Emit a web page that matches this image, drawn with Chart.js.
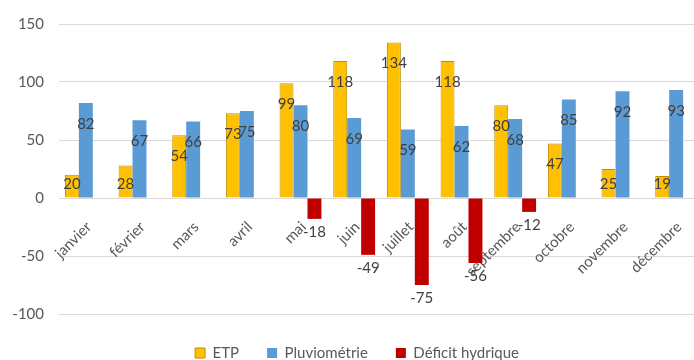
<!DOCTYPE html>
<html>
<head>
<meta charset="utf-8">
<script src="https://cdn.jsdelivr.net/npm/chart.js@4"></script>
<style>
  html, body { margin: 0; padding: 0; background: #ffffff; overflow: hidden; }
  /* the plot runs slightly past the right edge of the visible frame */
  #wrap { width: 694px; height: 360px; overflow: hidden; }
</style>
</head>
<body>
<div id="wrap"><canvas id="chart" width="703" height="360"></canvas></div>
<script>
// Monthly water balance: evapotranspiration, rainfall and water deficit (mm)
const months = ['janvier', 'février', 'mars', 'avril', 'mai', 'juin', 'juillet', 'août', 'septembre', 'octobre', 'novembre', 'décembre'];
const etp = [20, 28, 54, 73, 99, 118, 134, 118, 80, 47, 25, 19];
const pluviometrie = [82, 67, 66, 75, 80, 69, 59, 62, 68, 85, 92, 93];
const deficit = [null, null, null, null, -18, -49, -75, -56, -12, null, null, null];
const yMin = -100;
const yMax = 150;
const yStep = 50;

const FONT = 'Lato';
const TEXT = '#595959';

// Value labels: positive bars get the value inside the top end,
// negative bars get it just past the bar end.
const valueLabels = {
  id: 'valueLabels',
  afterDatasetsDraw(chart) {
    const ctx = chart.ctx;
    const zeroY = chart.scales.y.getPixelForValue(0);
    ctx.save();
    ctx.font = '15px ' + FONT;
    ctx.fillStyle = '#404040';
    ctx.textAlign = 'center';
    ctx.textBaseline = 'middle';
    chart.data.datasets.forEach((ds, i) => {
      const meta = chart.getDatasetMeta(i);
      meta.data.forEach((bar, j) => {
        const v = ds.data[j];
        if (v === null || v === undefined) return;
        let y;
        if (v >= 0) {
          y = Math.min(bar.y + 21, zeroY - 14);
        } else {
          y = bar.y + 13;
        }
        ctx.fillText(String(v), bar.x, y);
      });
    });
    ctx.restore();
  }
};

// Nudge the legend row a little right and down under the plot.
const legendOffset = {
  id: 'legendOffset',
  afterLayout(chart) {
    const lg = chart.legend;
    if (!lg) return;
    const dx = 5.5, dy = 3.5;
    lg.left += dx; lg.right += dx;
    lg.top += dy; lg.bottom += dy;
  }
};

new Chart(document.getElementById('chart'), {
  type: 'bar',
  data: {
    labels: months,
    datasets: [
      {
        label: 'ETP',
        data: etp,
        backgroundColor: '#FFC000',
        borderColor: '#BF9000',
        borderWidth: 1
      },
      {
        label: 'Pluviométrie',
        data: pluviometrie,
        backgroundColor: '#5B9BD5',
        borderWidth: 0
      },
      {
        label: 'Déficit hydrique',
        data: deficit,
        backgroundColor: '#C00000',
        borderWidth: 0
      }
    ]
  },
  options: {
    responsive: false,
    animation: false,
    datasets: {
      bar: { categoryPercentage: 0.78, barPercentage: 1.0 }
    },
    layout: { padding: { top: 10, right: 0, left: 0, bottom: -7 } },
    scales: {
      x: {
        position: { y: 0 },
        grid: { display: false, drawTicks: false },
        border: { display: false },
        ticks: {
          color: TEXT,
          font: { family: FONT, size: 15 },
          minRotation: 45,
          maxRotation: 45,
          autoSkip: false,
          padding: 20,
          labelOffset: 3
        },
        afterFit(scale) {
          scale.height = 0;
          scale.paddingLeft = 0;
          scale.paddingRight = 0;
        }
      },
      y: {
        min: yMin,
        max: yMax,
        grid: { color: '#D9D9D9', drawTicks: false },
        border: { display: false },
        ticks: {
          stepSize: yStep,
          color: TEXT,
          font: { family: FONT, size: 15 },
          padding: 15
        },
        afterFit(scale) { scale.width = 59; }
      }
    },
    plugins: {
      legend: {
        position: 'bottom',
        labels: {
          boxWidth: 10,
          boxHeight: 10,
          padding: 28,
          color: TEXT,
          font: { family: FONT, size: 15 }
        }
      },
      tooltip: { enabled: false }
    }
  },
  plugins: [valueLabels, legendOffset]
});
</script>
</body>
</html>
